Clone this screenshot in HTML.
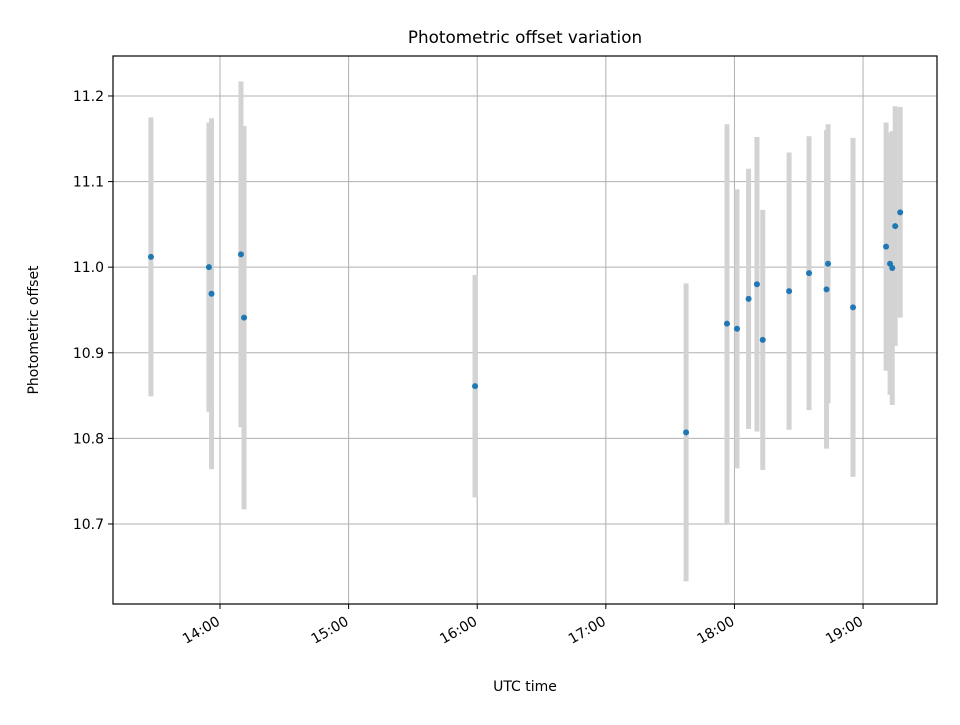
<!DOCTYPE html>
<html><head><meta charset="utf-8"><style>body{margin:0;background:#fff}svg{font-family:"DejaVu Sans","Liberation Sans",sans-serif}</style></head>
<body>
<svg id="chart" width="960" height="720" viewBox="0 0 960 720" xmlns="http://www.w3.org/2000/svg">
<rect width="960" height="720" fill="#fff"/>
<g id="grid"></g>
<g id="bars"></g>
<g id="pts"></g>
<rect x="113" y="56" width="824" height="548" fill="none" stroke="#000" stroke-width="1.2"/>
<g id="ticks"></g>
<text x="525" y="43" font-size="16.8" text-anchor="middle">Photometric offset variation</text>
<text x="525" y="691" font-size="14" text-anchor="middle">UTC time</text>
<text x="38" y="330" font-size="14" text-anchor="middle" transform="rotate(-90 38 330)">Photometric offset</text>
</svg>
<script>
const times=[13.463,13.914,13.934,14.163,14.187,15.983,17.624,17.942,18.02,18.11,18.175,18.22,18.425,18.58,18.716,18.728,18.922,19.179,19.21,19.227,19.25,19.289];
const values=[11.012,11.0,10.969,11.015,10.941,10.861,10.807,10.934,10.928,10.963,10.98,10.915,10.972,10.993,10.974,11.004,10.953,11.024,11.004,10.999,11.048,11.064];
const errors=[0.163,0.169,0.205,0.202,0.224,0.13,0.174,0.233,0.163,0.152,0.172,0.152,0.162,0.16,0.186,0.163,0.198,0.145,0.153,0.16,0.14,0.123];
const yTicks=[10.7,10.8,10.9,11.0,11.1,11.2];
const xTicks=[14,15,16,17,18,19];
const xTickLabels=["14:00","15:00","16:00","17:00","18:00","19:00"];
const NS="http://www.w3.org/2000/svg";
const X0=113,X1=937,Y0=56,Y1=604,xmin=13.168,xmax=19.575,ymin=10.6065,ymax=11.2467;
const sx=h=>X0+(h-xmin)/(xmax-xmin)*(X1-X0);
const sy=v=>Y1-(v-ymin)/(ymax-ymin)*(Y1-Y0);
function mk(t,a,p){const e=document.createElementNS(NS,t);for(const k in a)e.setAttribute(k,a[k]);p.appendChild(e);return e;}
const grid=document.getElementById('grid'),ticks=document.getElementById('ticks'),bars=document.getElementById('bars'),pts=document.getElementById('pts');
yTicks.forEach(v=>{const y=sy(v);
 const g=mk('line',{x1:X0,x2:X1,y1:y,y2:y,stroke:'#b0b0b0','stroke-width':1},grid);
 
 mk('line',{x1:X0-5,x2:X0,y1:y,y2:y,stroke:'#000'},ticks);
 const t=mk('text',{x:X0-9,y:y+5,'font-size':14,'text-anchor':'end'},ticks);t.textContent=v.toFixed(1);
 });
xTicks.forEach((h,i)=>{const x=sx(h);
 const g=mk('line',{x1:x,x2:x,y1:Y0,y2:Y1,stroke:'#b0b0b0','stroke-width':1},grid);
 
 mk('line',{x1:x,x2:x,y1:Y1,y2:Y1+5,stroke:'#000'},ticks);
 const t=mk('text',{x:x+1,y:Y1+20,'font-size':14,'text-anchor':'end',transform:`rotate(-30 ${x+1} ${Y1+20})`},ticks);t.textContent=xTickLabels[i];
 });
times.forEach((h,i)=>{const x=sx(h);
 const b=mk('line',{x1:x,x2:x,y1:sy(values[i]+errors[i]),y2:sy(values[i]-errors[i]),stroke:'#d3d3d3','stroke-width':5},bars);
 
 const c=mk('circle',{cx:x,cy:sy(values[i]),r:3,fill:'#1f77b4'},pts);
 });
</script>
</body></html>
